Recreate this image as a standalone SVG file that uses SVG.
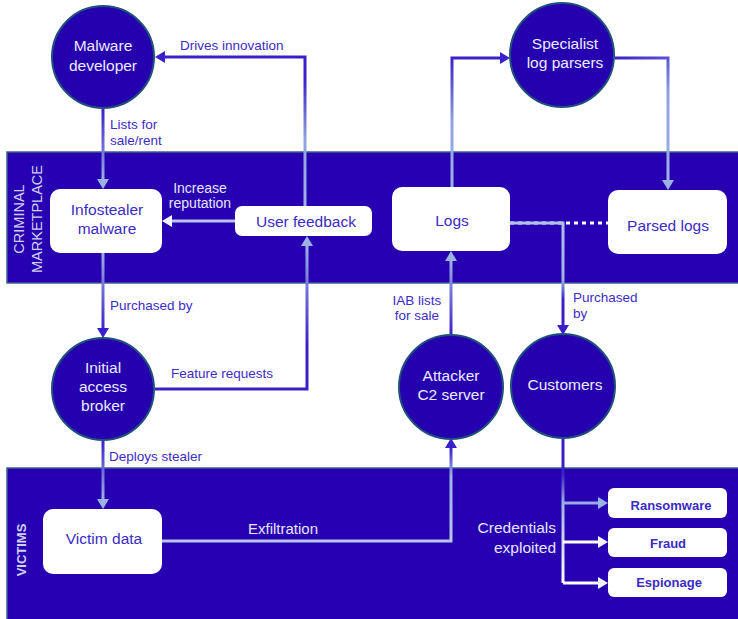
<svg xmlns="http://www.w3.org/2000/svg" width="738" height="619" viewBox="0 0 738 619">
<style>
.band{fill:#2700b2;stroke:#3d5f92;stroke-width:1.5}
.circ{fill:#2500ae;stroke:#22507c;stroke-width:2}
.box{fill:#ffffff}
.ct{font-family:"Liberation Sans",Arial,sans-serif;font-size:15.5px;fill:#ecebff;text-anchor:middle}
.bt{font-family:"Liberation Sans",Arial,sans-serif;font-size:15.5px;fill:#3b2bc4;text-anchor:middle}
.st{font-family:"Liberation Sans",Arial,sans-serif;font-size:13px;font-weight:bold;fill:#3b2bc4;text-anchor:middle}
.lb{font-family:"Liberation Sans",Arial,sans-serif;font-size:13.5px;fill:#3d2cc6}
.lw{font-family:"Liberation Sans",Arial,sans-serif;font-size:15px;fill:#e6e6fa}
.bandlbl{font-family:"Liberation Sans",Arial,sans-serif;font-size:14.5px;fill:#cfd0f2;text-anchor:middle}
.c{fill:none;stroke-width:3}
</style>
<defs>
<marker id="aD" markerUnits="userSpaceOnUse" markerWidth="10" markerHeight="12" refX="0" refY="6" orient="auto"><path d="M0,0 L10,6 L0,12 z" fill="#3a20c8"/></marker>
<marker id="aL" markerUnits="userSpaceOnUse" markerWidth="10" markerHeight="12" refX="0" refY="6" orient="auto"><path d="M0,0 L10,6 L0,12 z" fill="#9db2e4"/></marker>
<marker id="aW" markerUnits="userSpaceOnUse" markerWidth="10" markerHeight="12" refX="0" refY="6" orient="auto"><path d="M0,0 L10,6 L0,12 z" fill="#f4f4ff"/></marker>
<linearGradient id="g1" gradientUnits="userSpaceOnUse" x1="0" y1="109" x2="0" y2="180"><stop offset="0" stop-color="#3a20c8"/><stop offset="1" stop-color="#9db2e4"/></linearGradient>
<linearGradient id="g2" gradientUnits="userSpaceOnUse" x1="0" y1="206" x2="0" y2="57"><stop offset="0" stop-color="#9db2e4"/><stop offset="0.45" stop-color="#8fa2e0"/><stop offset="0.85" stop-color="#3a20c8"/><stop offset="1" stop-color="#3a20c8"/></linearGradient>
<linearGradient id="g4" gradientUnits="userSpaceOnUse" x1="0" y1="253" x2="0" y2="330"><stop offset="0" stop-color="#9db2e4"/><stop offset="1" stop-color="#3a20c8"/></linearGradient>
<linearGradient id="g5" gradientUnits="userSpaceOnUse" x1="0" y1="389" x2="0" y2="246"><stop offset="0" stop-color="#3a20c8"/><stop offset="0.3" stop-color="#3a20c8"/><stop offset="1" stop-color="#9db2e4"/></linearGradient>
<linearGradient id="g6" gradientUnits="userSpaceOnUse" x1="0" y1="440" x2="0" y2="500"><stop offset="0" stop-color="#3a20c8"/><stop offset="1" stop-color="#9db2e4"/></linearGradient>
<linearGradient id="g7" gradientUnits="userSpaceOnUse" x1="0" y1="541" x2="0" y2="448"><stop offset="0" stop-color="#b7c6ee"/><stop offset="0.7" stop-color="#9db2e4"/><stop offset="1" stop-color="#3a20c8"/></linearGradient>
<linearGradient id="g8" gradientUnits="userSpaceOnUse" x1="0" y1="335" x2="0" y2="261"><stop offset="0" stop-color="#3a20c8"/><stop offset="1" stop-color="#9db2e4"/></linearGradient>
<linearGradient id="g9" gradientUnits="userSpaceOnUse" x1="0" y1="187" x2="0" y2="57"><stop offset="0" stop-color="#9db2e4"/><stop offset="0.5" stop-color="#8fa2e0"/><stop offset="1" stop-color="#3a20c8"/></linearGradient>
<linearGradient id="g10" gradientUnits="userSpaceOnUse" x1="615" y1="58" x2="668" y2="180"><stop offset="0" stop-color="#3a20c8"/><stop offset="0.4" stop-color="#8fa2e0"/><stop offset="1" stop-color="#9db2e4"/></linearGradient>
<linearGradient id="g12" gradientUnits="userSpaceOnUse" x1="0" y1="223" x2="0" y2="325"><stop offset="0" stop-color="#b0c0ec"/><stop offset="0.55" stop-color="#9db2e4"/><stop offset="0.75" stop-color="#3a20c8"/><stop offset="1" stop-color="#3a20c8"/></linearGradient>
<linearGradient id="g13" gradientUnits="userSpaceOnUse" x1="0" y1="438" x2="0" y2="583"><stop offset="0" stop-color="#3a20c8"/><stop offset="0.25" stop-color="#3a20c8"/><stop offset="0.45" stop-color="#9db2e4"/><stop offset="1" stop-color="#ffffff"/></linearGradient>
</defs>

<g id="bands">
<rect class="band" x="7" y="152" width="740" height="131"/>
<rect class="band" x="7" y="468" width="740" height="160"/>
<text class="bandlbl" transform="translate(24,219) rotate(-90)">CRIMINAL</text>
<text class="bandlbl" transform="translate(42,219) rotate(-90)">MARKETPLACE</text>
<text class="bandlbl" style="font-weight:bold;font-size:13px" transform="translate(26,550) rotate(-90)">VICTIMS</text>
</g>

<g id="connectors">
<path class="c" stroke="url(#g1)" d="M103,109 V179" marker-end="url(#aL)"/>
<path class="c" stroke="url(#g2)" d="M305,206 V57 H165" marker-end="url(#aD)"/>
<path class="c" stroke="#b6c4ee" d="M235,221 H172" marker-end="url(#aW)"/>
<path class="c" stroke="url(#g4)" d="M103,253 V328" marker-end="url(#aD)"/>
<path class="c" stroke="url(#g5)" d="M155,389 H307 V246" marker-end="url(#aL)"/>
<path class="c" stroke="url(#g6)" d="M103,440 V499" marker-end="url(#aL)"/>
<path class="c" stroke="url(#g7)" d="M162,541 H451 V448" marker-end="url(#aD)"/>
<path class="c" stroke="url(#g8)" d="M451,335 V261" marker-end="url(#aL)"/>
<path class="c" stroke="url(#g9)" d="M452,187 V58 H500" marker-end="url(#aD)"/>
<path class="c" stroke="url(#g10)" d="M615,58 H668 V180" marker-end="url(#aL)"/>
<path class="c" stroke="#ffffff" stroke-dasharray="4 4" d="M510,223 H608"/>
<path class="c" stroke="url(#g12)" d="M510,223 H563 V325" marker-end="url(#aD)"/>
<path class="c" stroke="url(#g13)" d="M563,438 V583"/>
<path class="c" stroke="#9aa8e6" d="M563,503 H598" marker-end="url(#aL)"/>
<path class="c" stroke="#ffffff" d="M563,542 H598" marker-end="url(#aW)"/>
<path class="c" stroke="#ffffff" d="M563,583 H598" marker-end="url(#aW)"/>
<text class="lb" x="180" y="50">Drives innovation</text>
<text class="lb" x="110" y="129">Lists for</text>
<text class="lb" x="110" y="145">sale/rent</text>
<text class="lw" x="200" y="193" text-anchor="middle" style="font-size:14px">Increase</text>
<text class="lw" x="200" y="208" text-anchor="middle" style="font-size:14px">reputation</text>
<text class="lb" x="110" y="310">Purchased by</text>
<text class="lb" x="171" y="378">Feature requests</text>
<text class="lb" x="109" y="461">Deploys stealer</text>
<text class="lw" x="248" y="534">Exfiltration</text>
<text class="lb" x="417" y="305" text-anchor="middle">IAB lists</text>
<text class="lb" x="417" y="320" text-anchor="middle">for sale</text>
<text class="lb" x="573" y="302">Purchased</text>
<text class="lb" x="573" y="318">by</text>
<text class="lw" x="556" y="533" text-anchor="end" style="font-size:15.5px">Credentials</text>
<text class="lw" x="556" y="553" text-anchor="end" style="font-size:15.5px">exploited</text>
</g>

<g id="malware-developer">
<circle class="circ" cx="103" cy="57" r="51"/>
<text class="ct" x="103" y="51">Malware</text>
<text class="ct" x="103" y="71">developer</text>
</g>
<g id="specialist-log-parsers">
<circle class="circ" cx="562" cy="55" r="52"/>
<text class="ct" x="565" y="49">Specialist</text>
<text class="ct" x="565" y="68">log parsers</text>
</g>
<g id="initial-access-broker">
<circle class="circ" cx="103" cy="389" r="51"/>
<text class="ct" x="103" y="373">Initial</text>
<text class="ct" x="103" y="392">access</text>
<text class="ct" x="103" y="411">broker</text>
</g>
<g id="attacker-c2">
<circle class="circ" cx="451" cy="387" r="52"/>
<text class="ct" x="451" y="381">Attacker</text>
<text class="ct" x="451" y="400">C2 server</text>
</g>
<g id="customers">
<circle class="circ" cx="563" cy="386" r="52"/>
<text class="ct" x="565" y="390">Customers</text>
</g>

<g id="infostealer-malware">
<rect class="box" x="50" y="189" width="112" height="64" rx="10"/>
<text class="bt" x="107" y="215">Infostealer</text>
<text class="bt" x="107" y="234">malware</text>
</g>
<g id="user-feedback">
<rect class="box" x="235" y="206" width="137" height="30" rx="7"/>
<text class="bt" x="306" y="227">User feedback</text>
</g>
<g id="logs">
<rect class="box" x="392" y="187" width="118" height="64" rx="10"/>
<text class="bt" x="452" y="226">Logs</text>
</g>
<g id="parsed-logs">
<rect class="box" x="608" y="190" width="119" height="64" rx="10"/>
<text class="bt" x="668" y="231">Parsed logs</text>
</g>
<g id="victim-data">
<rect class="box" x="43" y="509" width="119" height="65" rx="10"/>
<text class="bt" x="104" y="544">Victim data</text>
</g>
<g id="ransomware">
<rect class="box" x="608" y="488" width="119" height="30" rx="6"/>
<text class="st" x="671" y="510">Ransomware</text>
</g>
<g id="fraud">
<rect class="box" x="608" y="528" width="119" height="29" rx="6"/>
<text class="st" x="668" y="548">Fraud</text>
</g>
<g id="espionage">
<rect class="box" x="608" y="568" width="119" height="29" rx="6"/>
<text class="st" x="669" y="587">Espionage</text>
</g>
</svg>
